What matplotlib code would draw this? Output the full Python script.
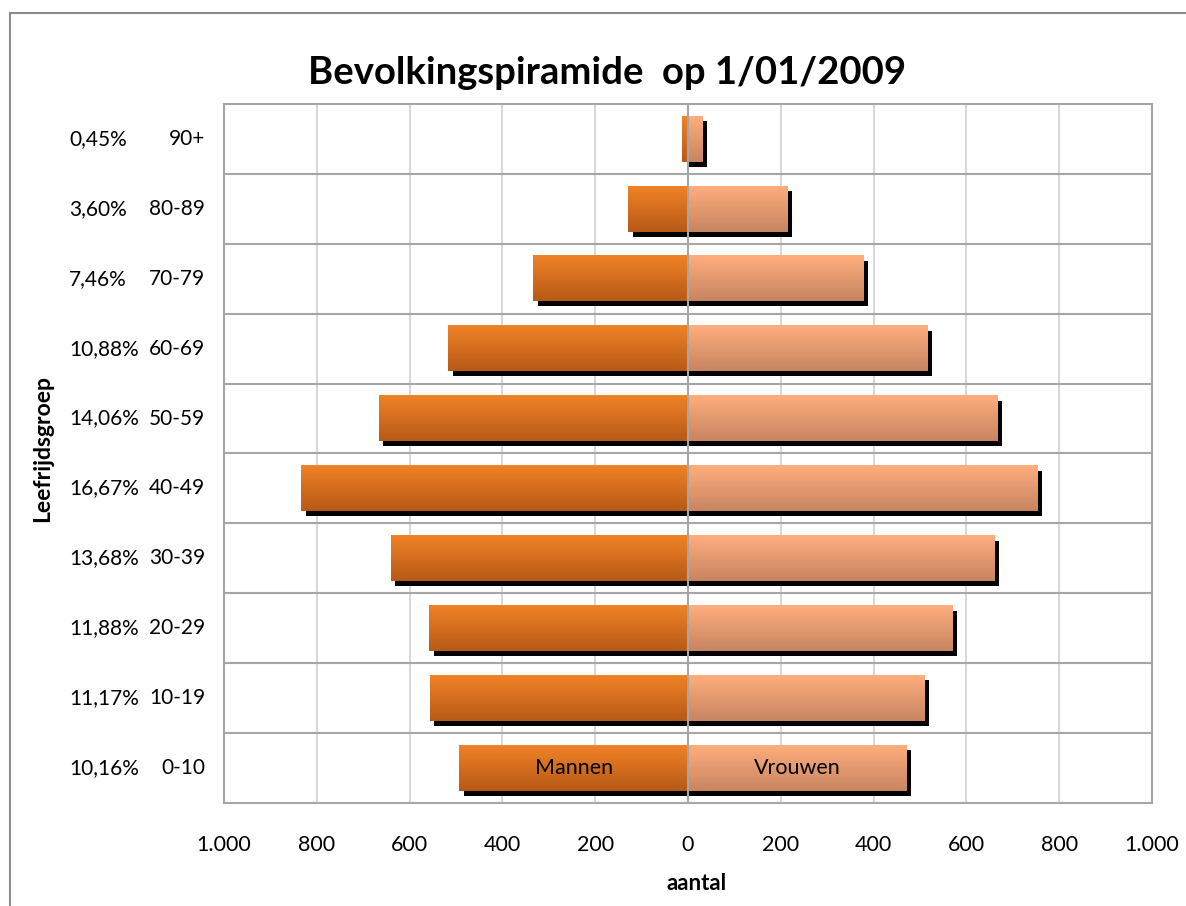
import matplotlib
matplotlib.use("Agg")
import matplotlib.pyplot as plt
import numpy as np
from matplotlib.patches import Rectangle
from matplotlib.ticker import FuncFormatter
import matplotlib.transforms as mtransforms

plt.rcParams['font.family'] = ['Lato', 'DejaVu Sans']

# Data (bottom to top)
age_groups = ['0-10', '10-19', '20-29', '30-39', '40-49', '50-59', '60-69', '70-79', '80-89', '90+']
percentages = ['10,16%', '11,17%', '11,88%', '13,68%', '16,67%', '14,06%', '10,88%', '7,46%', '3,60%', '0,45%']
mannen = [493, 557, 558, 641, 833, 667, 517, 333, 129, 12]
vrouwen = [470, 510, 571, 660, 753, 666, 517, 378, 215, 31]

man_top, man_bot = np.array([0.94, 0.51, 0.15]), np.array([0.72, 0.35, 0.09])
vr_top, vr_bot = np.array([1.0, 0.68, 0.49]), np.array([0.78, 0.52, 0.38])

fig = plt.figure(figsize=(11.86, 9.06), dpi=100)
ax = fig.add_axes([224 / 1186, 1 - 803 / 906, (1152 - 224) / 1186, (803 - 104) / 906])

# outer chart border
fig.patches.append(Rectangle((10 / 1186, -0.1), 1.2, 1.1 - 13 / 906, transform=fig.transFigure,
                             fill=False, edgecolor='#8c8c8c', lw=1.5))

h = 0.65
y = np.arange(len(age_groups))
shadow_tr = mtransforms.offset_copy(ax.transData, fig=fig, x=4.5, y=-5, units='dots')


def gradient(top, bot):
    t = np.linspace(0, 1, 64)[:, None]
    return (top[None, :] * (1 - t) + bot[None, :] * t)[:, None, :]


# shadows
for i in y:
    ax.add_patch(Rectangle((-mannen[i], i - h / 2), mannen[i], h, facecolor='black',
                           edgecolor='none', transform=shadow_tr, zorder=2))
    ax.add_patch(Rectangle((0, i - h / 2), vrouwen[i], h, facecolor='black',
                           edgecolor='none', transform=shadow_tr, zorder=2))

# gradient bars
for i in y:
    ax.imshow(gradient(man_top, man_bot), extent=(-mannen[i], 0, i - h / 2, i + h / 2),
              aspect='auto', interpolation='bilinear', zorder=3)
    ax.imshow(gradient(vr_top, vr_bot), extent=(0, vrouwen[i], i - h / 2, i + h / 2),
              aspect='auto', interpolation='bilinear', zorder=3)

ax.text(-mannen[0] / 2, 0, 'Mannen', ha='center', va='center', fontsize=15.5, zorder=5)
ax.text(vrouwen[0] / 2, 0, 'Vrouwen', ha='center', va='center', fontsize=15.5, zorder=5)

ax.set_xlim(-1000, 1000)
ax.set_ylim(-0.5, len(age_groups) - 0.5)

# grid
for xv in range(-800, 1000, 200):
    if xv != 0:
        ax.axvline(xv, color='#cfcfcf', lw=1.2, zorder=0)
for yv in np.arange(0.5, len(age_groups) - 0.5):
    ax.axhline(yv, color='#a6a6a6', lw=1.5, zorder=1)
ax.axvline(0, color='#a6a6a6', lw=1.5, zorder=4)

for s in ax.spines.values():
    s.set_color('#a6a6a6')
    s.set_linewidth(1.5)

ax.set_xticks(range(-1000, 1001, 200))
ax.xaxis.set_major_formatter(FuncFormatter(lambda v, p: f"{abs(int(v)):,}".replace(',', '.')))
ax.tick_params(axis='x', length=0, pad=23, labelsize=15.5)
ax.set_yticks([])

# y labels: percentage + age group
for i in y:
    ax.annotate(percentages[i], xy=(0, i), xycoords=('axes fraction', 'data'),
                xytext=(-155, 0), textcoords='offset pixels', ha='left', va='center', fontsize=15)
    ax.annotate(age_groups[i], xy=(0, i), xycoords=('axes fraction', 'data'),
                xytext=(-19, 0), textcoords='offset pixels', ha='right', va='center', fontsize=15)

fig.text(607 / 1186, 1 - 73 / 906, 'Bevolkingspiramide  op 1/01/2009', ha='center', va='center',
         fontsize=27.5, fontweight='bold')
fig.text(697 / 1186, 1 - 883 / 906, 'aantal', ha='center', va='center', fontsize=16, fontweight='bold')
fig.text(43 / 1186, 1 - 448 / 906, 'Leefrijdsgroep', ha='center', va='center', rotation=90,
         fontsize=16.5, fontweight='bold')

fig.savefig('out.png', dpi=100)
